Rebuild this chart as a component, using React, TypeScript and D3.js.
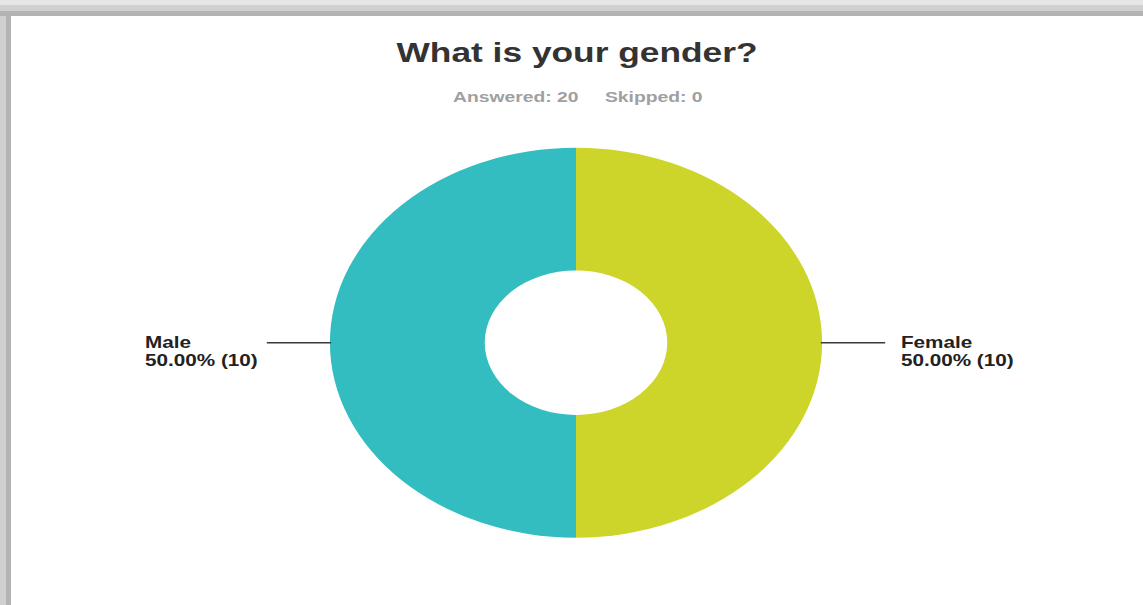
import React from "react";
import * as d3 from "d3";

const categories = ["Male", "Female"];
const counts = [10, 10];
const colors = ["#33bdc0", "#cdd42a"];
const titleText = "What is your gender?";
const answeredText = "Answered: 20";
const skippedText = "Skipped: 0";

const W = 1143;
const H = 605;
const cx = 576;
const cy = 342.7;
const sx = 1.262;
const outerR = 195;
const innerR = 72.3;

export default function App() {
  const total = d3.sum(counts);
  const pie = d3
    .pie<number>()
    .sort(null)
    .startAngle(Math.PI)
    .endAngle(3 * Math.PI);
  const arcs = pie(counts);
  const arc = d3.arc<d3.PieArcDatum<number>>().innerRadius(innerR).outerRadius(outerR);
  const fmt = d3.format(".2%");

  return (
    <svg
      width={W}
      height={H}
      style={{ position: "absolute", left: 0, top: 0, background: "#fff" }}
      fontFamily="'Liberation Sans', Arial, sans-serif"
    >
      {/* frame shading */}
      <rect x={0} y={0} width={W} height={5} fill="#e6e6e6" />
      <rect x={0} y={5} width={W} height={6} fill="#d0d0d0" />
      <rect x={0} y={11} width={W} height={5} fill="#b3b3b3" />
      <rect x={0} y={16} width={6} height={H - 16} fill="#d0d0d0" />
      <rect x={6} y={16} width={5} height={H - 16} fill="#b3b3b3" />

      <g transform={`translate(${cx},0) scale(${sx},1)`}>
        <text x={0.8} y={62} textAnchor="middle" fontSize={28} fontWeight="bold" fill="#333">
          {titleText}
        </text>
        <text x={(453 - cx) / sx} y={102} fontSize={15.3} fontWeight="bold" fill="#a0a0a0">
          {answeredText}
        </text>
        <text x={(605 - cx) / sx} y={102} fontSize={15.3} fontWeight="bold" fill="#a0a0a0">
          {skippedText}
        </text>

        <g transform={`translate(0,${cy})`}>
          {arcs.map((a, i) => (
            <path key={categories[i]} d={arc(a) || ""} fill={colors[i]} />
          ))}
        </g>

        {arcs.map((a, i) => {
          const mid = (a.startAngle + a.endAngle) / 2;
          const dir = Math.sin(mid) < 0 ? -1 : 1;
          const x0 = dir * (outerR - 1);
          const x1 = dir * (outerR + 50);
          const tx = dir < 0 ? (145 - cx) / sx : (901 - cx) / sx;
          return (
            <g key={"lab" + categories[i]}>
              <line x1={x0} x2={x1} y1={cy} y2={cy} stroke="#3a3a3a" strokeWidth={1.6} />
              <text x={tx} y={348} fontSize={16.4} fontWeight="bold" fill="#222">
                {categories[i]}
              </text>
              <text x={tx} y={366.5} fontSize={16.4} fontWeight="bold" fill="#222">
                {`${fmt(counts[i] / total)} (${counts[i]})`}
              </text>
            </g>
          );
        })}
      </g>
    </svg>
  );
}
